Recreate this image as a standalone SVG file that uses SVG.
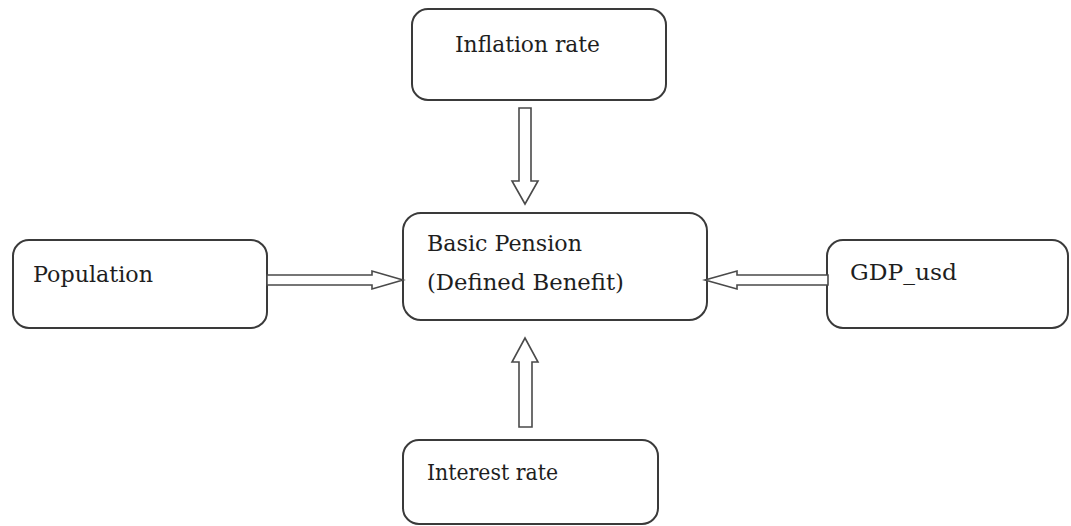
<svg xmlns="http://www.w3.org/2000/svg" width="1071" height="526" viewBox="0 0 1071 526">
<style>
.box{fill:#fff;stroke:#3a3a3a;stroke-width:2}
.lbl{font-family:'DejaVu Serif','Liberation Serif',serif;font-size:23px;fill:#1e1e1e}
.arr{fill:#fff;stroke:#4a4a4a;stroke-width:1.6;stroke-linejoin:miter}
</style>
<rect width="1071" height="526" fill="#fff"/>
<g id="inflation">
<rect class="box" x="412" y="9" width="254" height="91" rx="16"/>
<text class="lbl" x="455" y="52" textLength="145" lengthAdjust="spacingAndGlyphs">Inflation rate</text>
</g>
<g id="pension">
<rect class="box" x="403" y="213" width="304" height="107" rx="18"/>
<text class="lbl" x="427" y="251" textLength="155" lengthAdjust="spacingAndGlyphs">Basic Pension</text>
<text class="lbl" x="427" y="290" textLength="197" lengthAdjust="spacingAndGlyphs">(Defined Benefit)</text>
</g>
<g id="population">
<rect class="box" x="13" y="240" width="254" height="88" rx="16"/>
<text class="lbl" x="33" y="282" textLength="120" lengthAdjust="spacingAndGlyphs">Population</text>
</g>
<g id="gdp">
<rect class="box" x="827" y="240" width="241" height="88" rx="16"/>
<text class="lbl" x="850" y="280" textLength="107" lengthAdjust="spacingAndGlyphs">GDP_usd</text>
</g>
<g id="interest">
<rect class="box" x="403" y="440" width="255" height="84" rx="16"/>
<text class="lbl" x="427" y="480" textLength="131" lengthAdjust="spacingAndGlyphs">Interest rate</text>
</g>
<g id="connectors">
<polygon class="arr" points="519,108 531,108 531,181 538,181 525,204 512,181 519,181"/>
<polygon class="arr" points="519,427 532,427 532,362 538,362 525,338 512,362 519,362"/>
<polygon class="arr" points="267,275 372,275 372,271 403,280 372,289 372,285 267,285"/>
<polygon class="arr" points="828,275 737,275 737,271 705,280 737,289 737,285 828,285"/>
</g>
</svg>
